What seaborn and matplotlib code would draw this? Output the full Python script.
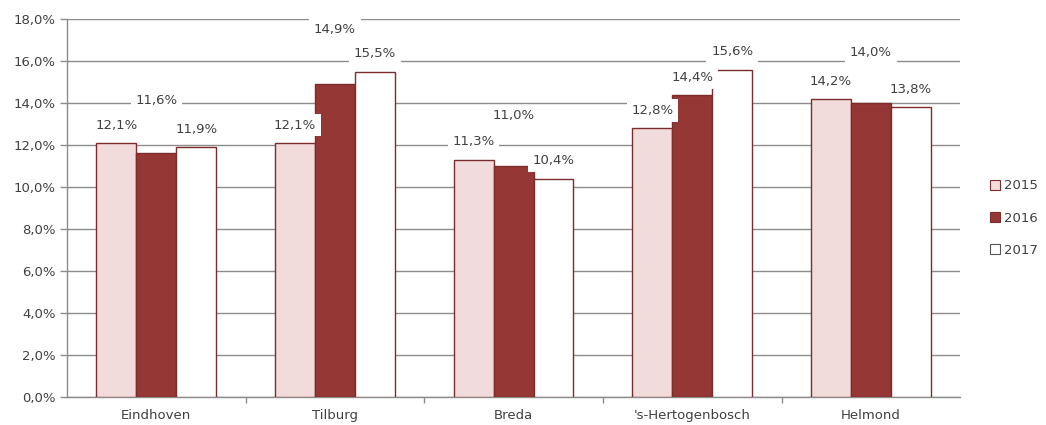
import matplotlib
matplotlib.use("Agg")
import matplotlib.pyplot as plt
from matplotlib.ticker import FixedLocator, FuncFormatter
from matplotlib.patches import Patch
import seaborn as sns
import pandas as pd

cities = ["Eindhoven", "Tilburg", "Breda", "'s-Hertogenbosch", "Helmond"]
years = ["2015", "2016", "2017"]
share_2015 = [12.1, 12.1, 11.3, 12.8, 14.2]
share_2016 = [11.6, 14.9, 11.0, 14.4, 14.0]
share_2017 = [11.9, 15.5, 10.4, 15.6, 13.8]
# extra lift of the 2016 labels above their bars
lift_2016 = [2.5, 2.6, 2.4, 0.8, 2.4]

fill_colors = ["#f2dcdb", "#953735", "#ffffff"]
edge_color = "#7b2c2c"
text_color = "#404040"
grid_color = "#8c8c8c"

df = pd.DataFrame({
    "city": cities * 3,
    "year": [y for y in years for _ in cities],
    "value": share_2015 + share_2016 + share_2017,
})

sns.set_theme(style="white")
plt.rcParams["font.family"] = ["DejaVu Sans"]

fig = plt.figure(figsize=(10.46, 4.25), dpi=100)
ax = fig.add_axes([0.064, 0.066, 0.854, 0.889])

sns.barplot(data=df, x="city", y="value", hue="year", order=cities,
            hue_order=years, palette=fill_colors, saturation=1, width=0.67,
            edgecolor=edge_color, linewidth=1.0, legend=False, ax=ax,
            zorder=3)

ax.set_ylim(0, 18)
ax.set_xlim(-0.5, len(cities) - 0.5)
ax.yaxis.set_major_locator(FixedLocator([i * 2 for i in range(10)]))
ax.yaxis.set_major_formatter(FuncFormatter(lambda v, _: f"{v:.1f}%".replace(".", ",")))
ax.grid(axis="y", color=grid_color, linewidth=1.0, zorder=0)
ax.set_axisbelow(True)
ax.set_xlabel("")
ax.set_ylabel("")

for side in ["top", "right"]:
    ax.spines[side].set_visible(False)
for side in ["left", "bottom"]:
    ax.spines[side].set_color(grid_color)
    ax.spines[side].set_linewidth(1.0)

fs = 9.5
ax.tick_params(axis="y", which="major", left=True, length=5, width=1,
               color=grid_color, labelsize=fs, labelcolor=text_color, pad=3)
ax.tick_params(axis="x", which="major", bottom=False, labelsize=fs,
               labelcolor=text_color, pad=3)
ax.xaxis.set_minor_locator(FixedLocator([i + 0.5 for i in range(len(cities) - 1)]))
ax.tick_params(axis="x", which="minor", bottom=True, length=4, width=1,
               color=grid_color)

# value labels in white boxes above the bars
box = dict(boxstyle="square,pad=0.35", facecolor="white", edgecolor="none")
for container, year in zip(ax.containers, years):
    for i, bar in enumerate(container):
        val = bar.get_height()
        x = bar.get_x() + bar.get_width() / 2
        y = val + 0.85
        if year == "2016":
            y = val + lift_2016[i]
        ax.text(x, y, f"{val:.1f}%".replace(".", ","), ha="center",
                va="center", fontsize=fs, color=text_color, bbox=box,
                zorder=5)

handles = [Patch(facecolor=c, edgecolor=edge_color if c != "#ffffff" else "#555555",
                 linewidth=0.8, label=y) for c, y in zip(fill_colors, years)]
leg = fig.legend(handles=handles, loc="center left", bbox_to_anchor=(0.935, 0.487),
                 frameon=False, fontsize=fs, handlelength=0.75, handleheight=0.75,
                 handletextpad=0.3, labelspacing=1.45, labelcolor=text_color)

fig.savefig("out.png", dpi=100)
